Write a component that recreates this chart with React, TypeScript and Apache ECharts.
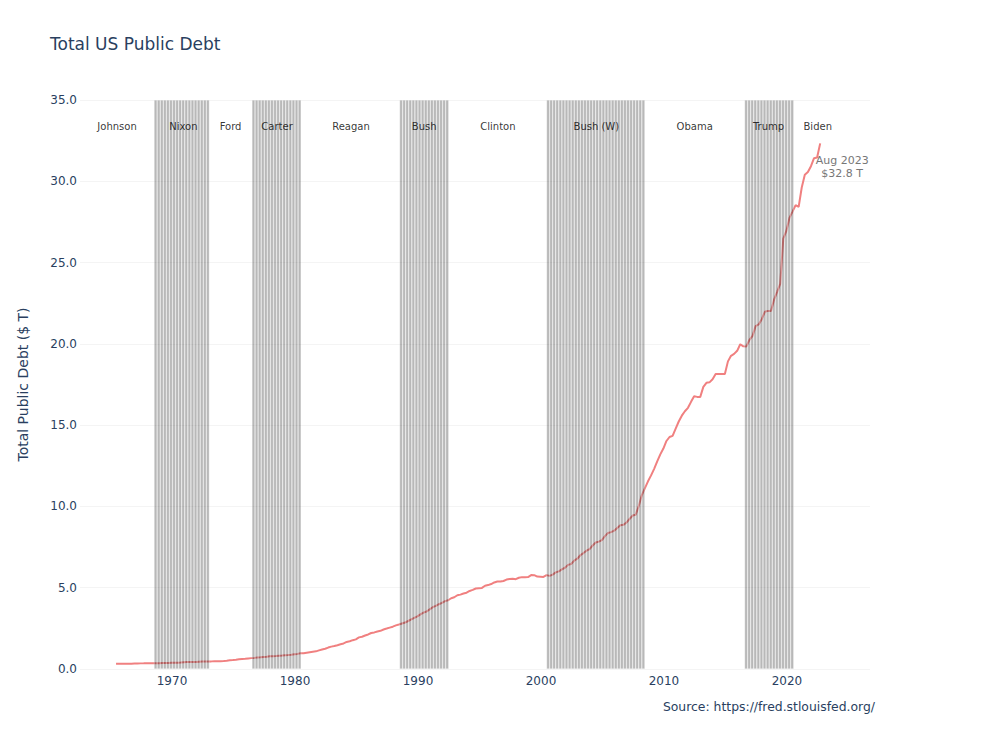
import React, { useEffect, useRef } from "react";
import * as echarts from "echarts";

// Total public debt, $ trillions, quarterly from 1966 Q1 to 2023 Q2
const debt: number[] = [
  0.321, 0.320, 0.325, 0.329,
  0.330, 0.323, 0.334, 0.344,
  0.346, 0.348, 0.356, 0.358,
  0.359, 0.353, 0.361, 0.367,
  0.370, 0.370, 0.380, 0.389,
  0.391, 0.398, 0.413, 0.424,
  0.427, 0.427, 0.437, 0.449,
  0.458, 0.458, 0.466, 0.469,
  0.476, 0.475, 0.483, 0.492,
  0.509, 0.533, 0.554, 0.576,
  0.599, 0.620, 0.635, 0.653,
  0.669, 0.684, 0.707, 0.719,
  0.739, 0.758, 0.780, 0.790,
  0.797, 0.812, 0.827, 0.845,
  0.863, 0.883, 0.910, 0.930,
  0.964, 0.972, 1.003, 1.034,
  1.065, 1.085, 1.147, 1.201,
  1.245, 1.319, 1.377, 1.411,
  1.463, 1.518, 1.573, 1.663,
  1.710, 1.774, 1.823, 1.945,
  1.986, 2.059, 2.125, 2.214,
  2.250, 2.310, 2.350, 2.431,
  2.487, 2.547, 2.602, 2.684,
  2.739, 2.800, 2.857, 2.953,
  3.053, 3.143, 3.233, 3.364,
  3.465, 3.538, 3.665, 3.802,
  3.881, 3.985, 4.065, 4.177,
  4.230, 4.352, 4.411, 4.536,
  4.576, 4.645, 4.693, 4.801,
  4.864, 4.951, 4.974, 4.989,
  5.118, 5.161, 5.225, 5.323,
  5.381, 5.376, 5.413, 5.502,
  5.542, 5.548, 5.526, 5.614,
  5.651, 5.639, 5.656, 5.776,
  5.774, 5.686, 5.674, 5.662,
  5.774, 5.727, 5.807, 5.943,
  6.006, 6.126, 6.228, 6.405,
  6.460, 6.670, 6.783, 6.998,
  7.131, 7.274, 7.379, 7.596,
  7.777, 7.836, 7.933, 8.170,
  8.371, 8.420, 8.507, 8.680,
  8.849, 8.867, 9.008, 9.229,
  9.437, 9.492, 10.025, 10.700,
  11.127, 11.545, 11.910, 12.311,
  12.773, 13.202, 13.562, 14.025,
  14.270, 14.343, 14.790, 15.223,
  15.582, 15.856, 16.066, 16.433,
  16.771, 16.738, 16.738, 17.352,
  17.601, 17.632, 17.824, 18.141,
  18.152, 18.152, 18.151, 18.922,
  19.264, 19.381, 19.573, 19.977,
  19.846, 19.845, 20.245, 20.493,
  21.090, 21.195, 21.516, 21.974,
  22.028, 22.023, 22.719, 23.201,
  23.687, 26.477, 26.945, 27.748,
  28.133, 28.529, 28.429, 29.617,
  30.401, 30.569, 30.929, 31.420,
  31.458, 32.333,
];

// Position of the first quarter on the year axis, and the quarter step
const firstQuarter = 1965.45;
const quarterStep = 0.25;

// Presidents and where their names sit along the axis
const presidents: string[] = [
  "Johnson", "Nixon", "Ford", "Carter", "Reagan", "Bush",
  "Clinton", "Bush (W)", "Obama", "Trump", "Biden",
];
const presidentX: number[] = [
  1965.53, 1970.92, 1974.76, 1978.54, 1984.55, 1990.5,
  1996.5, 2004.5, 2012.5, 2018.5, 2022.5,
];
const presidentLabelY = 33.4;

// Shaded terms: first edge on the axis and number of quarters covered
const shadedStart: number[] = [1968.54, 1976.5, 1988.5, 2000.45, 2016.55];
const shadedQuarters: number[] = [18, 16, 16, 32, 16];
const shadeTop = 35;

const xTicks: number[] = [1970, 1980, 1990, 2000, 2010, 2020];

const latestMonth = "Aug 2023";
const latestTotal = 32.8;

const FONT = '"DejaVu Sans", verdana, arial, sans-serif';
const INK = "#2a3f5f";

export default function App() {
  const ref = useRef<HTMLDivElement>(null);

  useEffect(() => {
    document.body.style.margin = "0";
    if (!ref.current) return;
    const chart = echarts.init(ref.current, undefined, { renderer: "svg" });

    const linePoints = debt.map((v, i) => [firstQuarter + i * quarterStep, v]);
    const shadeBars: number[][] = [];
    shadedStart.forEach((s, b) => {
      for (let k = 0; k < shadedQuarters[b]; k++) {
        shadeBars.push([s + quarterStep / 2 + k * quarterStep, shadeTop]);
      }
    });
    const lastPoint = linePoints[linePoints.length - 1];

    chart.setOption({
      animation: false,
      textStyle: { fontFamily: FONT },
      title: {
        text: "Total US Public Debt",
        left: 50,
        top: 35,
        padding: 0,
        textStyle: { fontFamily: FONT, fontSize: 17, fontWeight: "normal", color: INK },
      },
      grid: { left: 80, right: 130, top: 100, bottom: 81 },
      xAxis: {
        type: "value",
        min: 1962.52,
        max: 2026.75,
        axisLine: { show: false },
        axisTick: { show: false },
        splitLine: { show: false },
        axisLabel: {
          customValues: xTicks,
          color: INK,
          fontSize: 12,
          margin: 6,
          formatter: (v: number) => String(v),
        },
      },
      yAxis: {
        type: "value",
        min: 0,
        max: 35,
        interval: 5,
        name: "Total Public Debt ($ T)",
        nameLocation: "middle",
        nameGap: 50,
        nameTextStyle: { fontFamily: FONT, fontSize: 14, color: INK },
        axisLine: { show: false },
        axisTick: { show: false },
        splitLine: { lineStyle: { color: "#f4f4f4", width: 1 } },
        axisLabel: {
          color: INK,
          fontSize: 12,
          margin: 3,
          formatter: (v: number) => v.toFixed(1),
        },
      },
      series: [
        {
          name: "Total Public Debt",
          type: "line",
          data: linePoints,
          showSymbol: false,
          z: 2,
          lineStyle: { color: "#f08080", width: 2 },
          itemStyle: { color: "#f08080" },
          markPoint: {
            symbol: "circle",
            symbolSize: 0,
            silent: true,
            data: [
              {
                coord: lastPoint,
                label: {
                  show: true,
                  formatter: `${latestMonth}\n$${latestTotal.toFixed(1)} T`,
                  offset: [22, 24],
                  color: "#777777",
                  fontSize: 11,
                  lineHeight: 13,
                  align: "center",
                  fontFamily: FONT,
                },
              },
            ],
          },
        },
        {
          name: "Terms",
          type: "bar",
          data: shadeBars,
          barWidth: 3.08,
          z: 3,
          silent: true,
          itemStyle: {
            color: "rgba(0,0,0,0.28)",
            borderColor: "rgba(255,255,255,0.55)",
            borderWidth: 0.5,
          },
        },
        {
          name: "Presidents",
          type: "scatter",
          data: presidentX.map((x, i) => ({ value: [x, presidentLabelY], name: presidents[i] })),
          symbolSize: 1,
          z: 4,
          silent: true,
          itemStyle: { color: "rgba(0,0,0,0)" },
          label: {
            show: true,
            position: "inside",
            formatter: (p: any) => p.name,
            color: "#000000",
            fontSize: 10,
            fontFamily: FONT,
          },
        },
      ],
      graphic: [
        {
          type: "text",
          x: 875,
          y: 706,
          style: {
            text: "Source: https://fred.stlouisfed.org/",
            textAlign: "right",
            textVerticalAlign: "middle",
            fontSize: 12.4,
            fontFamily: FONT,
            fill: INK,
          },
        },
      ],
    });

    return () => chart.dispose();
  }, []);

  return <div ref={ref} style={{ width: 1000, height: 750 }} />;
}
